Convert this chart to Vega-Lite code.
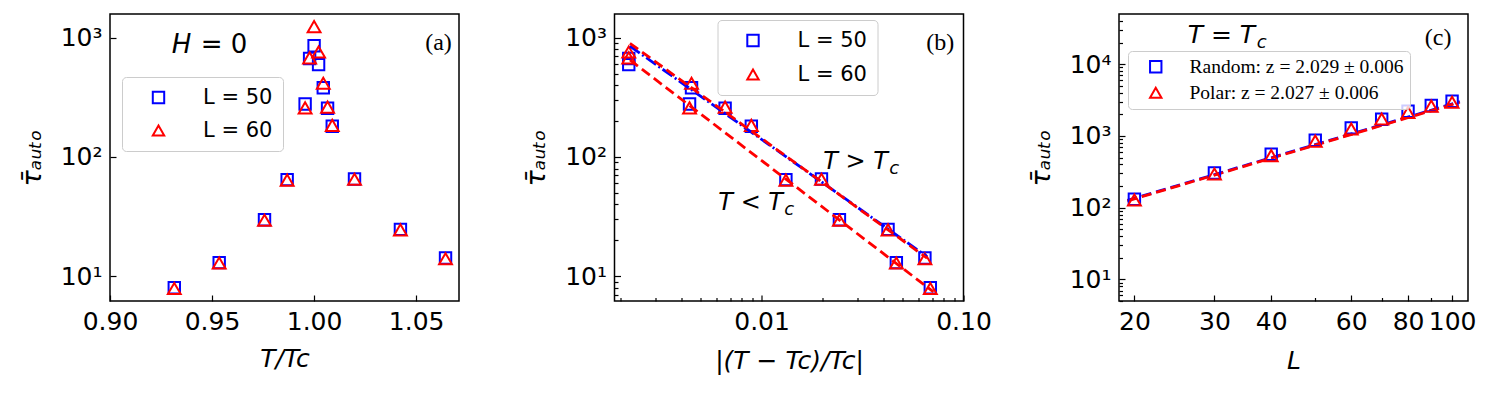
{
  "$schema": "https://vega.github.io/schema/vega-lite/v6.json",
  "background": "white",
  "autosize": {"type": "pad"},
  "padding": {"left": 17, "top": 8, "right": 5, "bottom": 5},
  "bounds": "flush",
  "spacing": 155.5,
  "datasets": {
    "a": [
      {"series": "L = 50", "t": 0.9315, "tau": 8.0},
      {"series": "L = 50", "t": 0.9535, "tau": 13.0},
      {"series": "L = 50", "t": 0.9757, "tau": 29.8},
      {"series": "L = 50", "t": 0.9868, "tau": 64.6},
      {"series": "L = 50", "t": 0.9956, "tau": 278},
      {"series": "L = 50", "t": 0.9978, "tau": 670},
      {"series": "L = 50", "t": 1.0, "tau": 857},
      {"series": "L = 50", "t": 1.0022, "tau": 595},
      {"series": "L = 50", "t": 1.0045, "tau": 380},
      {"series": "L = 50", "t": 1.0066, "tau": 256},
      {"series": "L = 50", "t": 1.0089, "tau": 181},
      {"series": "L = 50", "t": 1.0198, "tau": 65.3},
      {"series": "L = 50", "t": 1.0423, "tau": 24.7},
      {"series": "L = 50", "t": 1.0644, "tau": 14.2},
      {"series": "L = 60", "t": 0.9315, "tau": 7.9},
      {"series": "L = 60", "t": 0.9535, "tau": 12.9},
      {"series": "L = 60", "t": 0.9757, "tau": 29.5},
      {"series": "L = 60", "t": 0.9868, "tau": 64},
      {"series": "L = 60", "t": 0.9956, "tau": 258},
      {"series": "L = 60", "t": 0.9978, "tau": 678},
      {"series": "L = 60", "t": 1.0, "tau": 1237},
      {"series": "L = 60", "t": 1.0022, "tau": 758},
      {"series": "L = 60", "t": 1.0045, "tau": 415},
      {"series": "L = 60", "t": 1.0066, "tau": 262},
      {"series": "L = 60", "t": 1.0089, "tau": 184},
      {"series": "L = 60", "t": 1.0198, "tau": 65},
      {"series": "L = 60", "t": 1.0423, "tau": 24.5},
      {"series": "L = 60", "t": 1.0644, "tau": 14.0}
    ],
    "annA1": [{"t": 0.9302, "tau": 740, "label": "H"}],
    "annA2": [{"t": 1.0675, "tau": 788, "label": "(a)"}],
    "b": [
      {"series": "L = 50", "d": 0.0022, "tau": 595},
      {"series": "L = 50", "d": 0.0045, "tau": 380},
      {"series": "L = 50", "d": 0.0066, "tau": 256},
      {"series": "L = 50", "d": 0.0089, "tau": 181},
      {"series": "L = 50", "d": 0.0198, "tau": 65.3},
      {"series": "L = 50", "d": 0.0423, "tau": 24.7},
      {"series": "L = 50", "d": 0.0644, "tau": 14.2},
      {"series": "L = 50", "d": 0.0022, "tau": 670},
      {"series": "L = 50", "d": 0.0044, "tau": 278},
      {"series": "L = 50", "d": 0.0132, "tau": 64.6},
      {"series": "L = 50", "d": 0.0243, "tau": 29.8},
      {"series": "L = 50", "d": 0.0465, "tau": 13.0},
      {"series": "L = 50", "d": 0.0685, "tau": 8.0},
      {"series": "L = 60", "d": 0.0022, "tau": 758},
      {"series": "L = 60", "d": 0.0045, "tau": 415},
      {"series": "L = 60", "d": 0.0066, "tau": 262},
      {"series": "L = 60", "d": 0.0089, "tau": 184},
      {"series": "L = 60", "d": 0.0198, "tau": 65},
      {"series": "L = 60", "d": 0.0423, "tau": 24.5},
      {"series": "L = 60", "d": 0.0644, "tau": 14.0},
      {"series": "L = 60", "d": 0.0022, "tau": 678},
      {"series": "L = 60", "d": 0.0044, "tau": 258},
      {"series": "L = 60", "d": 0.0132, "tau": 64},
      {"series": "L = 60", "d": 0.0243, "tau": 29.5},
      {"series": "L = 60", "d": 0.0465, "tau": 12.9},
      {"series": "L = 60", "d": 0.0685, "tau": 7.9}
    ],
    "bfitBlue": [
      {"line": "gt", "d": 0.00223, "tau": 850},
      {"line": "gt", "d": 0.066, "tau": 14.6}
    ],
    "bfitRed": [
      {"line": "gt", "d": 0.00223, "tau": 897},
      {"line": "gt", "d": 0.066, "tau": 14.2},
      {"line": "lt", "d": 0.00223, "tau": 650},
      {"line": "lt", "d": 0.071, "tau": 7.4}
    ],
    "annB1": [
      {"d": 0.0202, "tau": 80, "label": "T > T"},
      {"d": 0.00611, "tau": 35.6, "label": "T < T"}
    ],
    "annB2": [{"d": 0.0901, "tau": 788, "label": "(b)"}],
    "c": [
      {"series": "Random: z = 2.029 ± 0.006", "L": 20, "tau": 131},
      {"series": "Random: z = 2.029 ± 0.006", "L": 30, "tau": 304},
      {"series": "Random: z = 2.029 ± 0.006", "L": 40, "tau": 554},
      {"series": "Random: z = 2.029 ± 0.006", "L": 50, "tau": 870},
      {"series": "Random: z = 2.029 ± 0.006", "L": 60, "tau": 1295},
      {"series": "Random: z = 2.029 ± 0.006", "L": 70, "tau": 1706},
      {"series": "Random: z = 2.029 ± 0.006", "L": 80, "tau": 2205},
      {"series": "Random: z = 2.029 ± 0.006", "L": 90, "tau": 2650},
      {"series": "Random: z = 2.029 ± 0.006", "L": 100, "tau": 3040},
      {"series": "Polar: z = 2.027 ± 0.006", "L": 20, "tau": 128},
      {"series": "Polar: z = 2.027 ± 0.006", "L": 30, "tau": 295},
      {"series": "Polar: z = 2.027 ± 0.006", "L": 40, "tau": 530},
      {"series": "Polar: z = 2.027 ± 0.006", "L": 50, "tau": 845},
      {"series": "Polar: z = 2.027 ± 0.006", "L": 60, "tau": 1250},
      {"series": "Polar: z = 2.027 ± 0.006", "L": 70, "tau": 1720},
      {"series": "Polar: z = 2.027 ± 0.006", "L": 80, "tau": 2130},
      {"series": "Polar: z = 2.027 ± 0.006", "L": 90, "tau": 2600},
      {"series": "Polar: z = 2.027 ± 0.006", "L": 100, "tau": 2950}
    ],
    "cfitBlue": [{"L": 19.3, "tau": 126}, {"L": 104, "tau": 3000}],
    "cfitRed": [{"L": 19.3, "tau": 124}, {"L": 104, "tau": 2945}],
    "annC1": [{"L": 26.2, "tau": 19800, "label": "T = T"}],
    "annC2": [{"L": 99.7, "tau": 18600, "label": "(c)"}]
  },
  "hconcat": [
    {
      "width": 349,
      "height": 287,
      "encoding": {
        "x": {"field": "t", "type": "quantitative",
          "scale": {"domain": [0.9, 1.071], "nice": false, "zero": false},
          "axis": {"title": "T/Tc", "values": [0.9, 0.95, 1.0, 1.05], "format": ".2f", "tickSize": -6, "labelPadding": 14, "titlePadding": 12}},
        "y": {"field": "tau", "type": "quantitative",
          "scale": {"type": "log", "domain": [6.2, 1580], "nice": false},
          "axis": {"title": "τ̄ₐᵤₜₒ", "titleFontSize": 27, "values": [10, 100, 1000],
            "labelExpr": "datum.value == 10 ? '10¹' : datum.value == 100 ? '10²' : datum.value == 1000 ? '10³' : ''",
            "tickSize": -6, "labelPadding": 14, "titlePadding": 14}}
      },
      "layer": [
        {
          "data": {"name": "a"},
          "transform": [{"filter": "datum.series == 'L = 50'"}],
          "mark": {"type": "point", "filled": false, "size": 130, "strokeWidth": 2, "opacity": 1},
          "encoding": {
            "color": {"field": "series", "type": "nominal", "scale": {"domain": ["L = 50", "L = 60"], "range": ["#0000ff", "#ff0000"]},
              "legend": {"orient": "none", "legendX": 12, "legendY": 63, "title": null, "padding": 10, "symbolOffset": 16, "labelOffset": 34, "rowPadding": 11, "labelFontSize": 21}},
            "shape": {"field": "series", "type": "nominal", "scale": {"domain": ["L = 50", "L = 60"], "range": ["square", "triangle-up"]},
              "legend": {"orient": "none", "legendX": 12, "legendY": 63, "title": null, "padding": 10, "symbolOffset": 16, "labelOffset": 34, "rowPadding": 11, "labelFontSize": 21}}
          }
        },
        {
          "data": {"name": "a"},
          "transform": [{"filter": "datum.series == 'L = 60'"}],
          "mark": {"type": "point", "filled": false, "size": 165, "strokeWidth": 2, "opacity": 1},
          "encoding": {
            "color": {"field": "series", "type": "nominal", "scale": {"domain": ["L = 50", "L = 60"], "range": ["#0000ff", "#ff0000"]},
              "legend": {"orient": "none", "legendX": 12, "legendY": 63, "title": null, "padding": 10, "symbolOffset": 16, "labelOffset": 34, "rowPadding": 11, "labelFontSize": 21}},
            "shape": {"field": "series", "type": "nominal", "scale": {"domain": ["L = 50", "L = 60"], "range": ["square", "triangle-up"]},
              "legend": {"orient": "none", "legendX": 12, "legendY": 63, "title": null, "padding": 10, "symbolOffset": 16, "labelOffset": 34, "rowPadding": 11, "labelFontSize": 21}}
          }
        },
        {
          "data": {"name": "annA1"},
          "mark": {"type": "text", "align": "left", "baseline": "alphabetic", "font": "DejaVu Sans", "fontSize": 26, "fontStyle": "italic", "color": "black"},
          "encoding": {"text": {"field": "label"}}
        },
        {
          "data": {"name": "annA1"},
          "mark": {"type": "text", "align": "left", "baseline": "alphabetic", "font": "DejaVu Sans", "fontSize": 26, "color": "black", "dx": 29},
          "encoding": {"text": {"value": "= 0"}}
        },
        {
          "data": {"name": "annA2"},
          "mark": {"type": "text", "align": "right", "baseline": "alphabetic", "font": "Liberation Serif", "fontSize": 24, "color": "black"},
          "encoding": {"text": {"field": "label"}}
        }
      ]
    },
    {
      "width": 349,
      "height": 287,
      "encoding": {
        "x": {"field": "d", "type": "quantitative",
          "scale": {"type": "log", "domain": [0.00187, 0.1], "nice": false},
          "axis": {"title": "|(T − Tc)/Tc|", "values": [0.002, 0.003, 0.004, 0.005, 0.006, 0.007, 0.008, 0.009, 0.01, 0.02, 0.03, 0.04, 0.05, 0.06, 0.07, 0.08, 0.09, 0.1],
            "labelExpr": "datum.value == 0.01 ? '0.01' : datum.value == 0.1 ? '0.10' : ''",
            "tickSize": {"condition": {"test": "datum.value == 0.01 || datum.value == 0.1", "value": -6}, "value": -3.5},
            "labelPadding": 14, "titlePadding": 12}},
        "y": {"field": "tau", "type": "quantitative",
          "scale": {"type": "log", "domain": [6.2, 1580], "nice": false},
          "axis": {"title": "τ̄ₐᵤₜₒ", "titleFontSize": 27, "values": [7, 8, 9, 10, 20, 30, 40, 50, 60, 70, 80, 90, 100, 200, 300, 400, 500, 600, 700, 800, 900, 1000],
            "labelExpr": "datum.value == 10 ? '10¹' : datum.value == 100 ? '10²' : datum.value == 1000 ? '10³' : ''",
            "tickSize": {"condition": {"test": "datum.value == 10 || datum.value == 100 || datum.value == 1000", "value": -6}, "value": -3.5},
            "labelPadding": 14, "titlePadding": 14}}
      },
      "layer": [
        {
          "data": {"name": "b"},
          "transform": [{"filter": "datum.series == 'L = 50'"}],
          "mark": {"type": "point", "filled": false, "size": 130, "strokeWidth": 2, "opacity": 1},
          "encoding": {
            "color": {"field": "series", "type": "nominal", "scale": {"domain": ["L = 50", "L = 60"], "range": ["#0000ff", "#ff0000"]},
              "legend": {"orient": "none", "legendX": 103, "legendY": 6, "title": null, "padding": 10, "symbolOffset": 15, "labelOffset": 34, "rowPadding": 12, "labelFontSize": 21}},
            "shape": {"field": "series", "type": "nominal", "scale": {"domain": ["L = 50", "L = 60"], "range": ["square", "triangle-up"]},
              "legend": {"orient": "none", "legendX": 103, "legendY": 6, "title": null, "padding": 10, "symbolOffset": 15, "labelOffset": 34, "rowPadding": 12, "labelFontSize": 21}}
          }
        },
        {
          "data": {"name": "b"},
          "transform": [{"filter": "datum.series == 'L = 60'"}],
          "mark": {"type": "point", "filled": false, "size": 165, "strokeWidth": 2, "opacity": 1},
          "encoding": {
            "color": {"field": "series", "type": "nominal", "scale": {"domain": ["L = 50", "L = 60"], "range": ["#0000ff", "#ff0000"]},
              "legend": {"orient": "none", "legendX": 103, "legendY": 6, "title": null, "padding": 10, "symbolOffset": 15, "labelOffset": 34, "rowPadding": 12, "labelFontSize": 21}},
            "shape": {"field": "series", "type": "nominal", "scale": {"domain": ["L = 50", "L = 60"], "range": ["square", "triangle-up"]},
              "legend": {"orient": "none", "legendX": 103, "legendY": 6, "title": null, "padding": 10, "symbolOffset": 15, "labelOffset": 34, "rowPadding": 12, "labelFontSize": 21}}
          }
        },
        {
          "data": {"name": "bfitBlue"},
          "mark": {"type": "line", "color": "#0000ff", "strokeWidth": 2.8, "strokeDash": [12, 3, 2, 3]},
          "encoding": {"detail": {"field": "line"}}
        },
        {
          "data": {"name": "bfitRed"},
          "mark": {"type": "line", "color": "#ff0000", "strokeWidth": 2.8, "strokeDash": [10, 5]},
          "encoding": {"detail": {"field": "line"}}
        },
        {
          "data": {"name": "annB1"},
          "mark": {"type": "text", "align": "left", "baseline": "alphabetic", "font": "DejaVu Sans", "fontSize": 24, "fontStyle": "italic", "color": "black"},
          "encoding": {"text": {"field": "label"}}
        },
        {
          "data": {"name": "annB1"},
          "mark": {"type": "text", "align": "left", "baseline": "alphabetic", "font": "DejaVu Sans", "fontSize": 18, "fontStyle": "italic", "color": "black", "dx": 66, "dy": 5},
          "encoding": {"text": {"value": "c"}}
        },
        {
          "data": {"name": "annB2"},
          "mark": {"type": "text", "align": "right", "baseline": "alphabetic", "font": "Liberation Serif", "fontSize": 24, "color": "black"},
          "encoding": {"text": {"field": "label"}}
        }
      ]
    },
    {
      "width": 349,
      "height": 287,
      "encoding": {
        "x": {"field": "L", "type": "quantitative",
          "scale": {"type": "log", "domain": [18.5, 108.4], "nice": false},
          "axis": {"title": "L", "values": [20, 30, 40, 50, 60, 70, 80, 90, 100], "format": "d",
            "labelExpr": "datum.value == 50 || datum.value == 70 || datum.value == 90 ? '' : datum.label",
            "tickSize": {"condition": {"test": "datum.value == 50 || datum.value == 70 || datum.value == 90", "value": -3.5}, "value": -6},
            "labelPadding": 14, "titlePadding": 12}},
        "y": {"field": "tau", "type": "quantitative",
          "scale": {"type": "log", "domain": [5, 50000], "nice": false},
          "axis": {"title": "τ̄ₐᵤₜₒ", "titleFontSize": 27,
            "values": [5, 6, 7, 8, 9, 10, 20, 30, 40, 50, 60, 70, 80, 90, 100, 200, 300, 400, 500, 600, 700, 800, 900, 1000, 2000, 3000, 4000, 5000, 6000, 7000, 8000, 9000, 10000, 20000, 30000, 40000],
            "labelExpr": "datum.value == 10 ? '10¹' : datum.value == 100 ? '10²' : datum.value == 1000 ? '10³' : datum.value == 10000 ? '10⁴' : ''",
            "tickSize": {"condition": {"test": "datum.value == 10 || datum.value == 100 || datum.value == 1000 || datum.value == 10000", "value": -6}, "value": -3.5},
            "labelPadding": 14, "titlePadding": 14}}
      },
      "layer": [
        {
          "data": {"name": "cfitBlue"},
          "mark": {"type": "line", "color": "#0000ff", "strokeWidth": 2.8, "strokeDash": [10, 5]},
          "encoding": {}
        },
        {
          "data": {"name": "cfitRed"},
          "mark": {"type": "line", "color": "#ff0000", "strokeWidth": 2.8, "strokeDash": [10, 5]},
          "encoding": {}
        },
        {
          "data": {"name": "c"},
          "transform": [{"filter": "datum.series == 'Random: z = 2.029 ± 0.006'"}],
          "mark": {"type": "point", "filled": false, "size": 130, "strokeWidth": 2, "opacity": 1},
          "encoding": {
            "color": {"field": "series", "type": "nominal", "scale": {"domain": ["Random: z = 2.029 ± 0.006", "Polar: z = 2.027 ± 0.006"], "range": ["#0000ff", "#ff0000"]},
              "legend": {"orient": "none", "legendX": 9, "legendY": 37, "title": null, "padding": 6, "symbolOffset": 12, "labelOffset": 24, "rowPadding": 5, "labelFontSize": 19.5, "labelFont": "Liberation Serif"}},
            "shape": {"field": "series", "type": "nominal", "scale": {"domain": ["Random: z = 2.029 ± 0.006", "Polar: z = 2.027 ± 0.006"], "range": ["square", "triangle-up"]},
              "legend": {"orient": "none", "legendX": 9, "legendY": 37, "title": null, "padding": 6, "symbolOffset": 12, "labelOffset": 24, "rowPadding": 5, "labelFontSize": 19.5, "labelFont": "Liberation Serif"}}
          }
        },
        {
          "data": {"name": "c"},
          "transform": [{"filter": "datum.series == 'Polar: z = 2.027 ± 0.006'"}],
          "mark": {"type": "point", "filled": false, "size": 165, "strokeWidth": 2, "opacity": 1},
          "encoding": {
            "color": {"field": "series", "type": "nominal", "scale": {"domain": ["Random: z = 2.029 ± 0.006", "Polar: z = 2.027 ± 0.006"], "range": ["#0000ff", "#ff0000"]},
              "legend": {"orient": "none", "legendX": 9, "legendY": 37, "title": null, "padding": 6, "symbolOffset": 12, "labelOffset": 24, "rowPadding": 5, "labelFontSize": 19.5, "labelFont": "Liberation Serif"}},
            "shape": {"field": "series", "type": "nominal", "scale": {"domain": ["Random: z = 2.029 ± 0.006", "Polar: z = 2.027 ± 0.006"], "range": ["square", "triangle-up"]},
              "legend": {"orient": "none", "legendX": 9, "legendY": 37, "title": null, "padding": 6, "symbolOffset": 12, "labelOffset": 24, "rowPadding": 5, "labelFontSize": 19.5, "labelFont": "Liberation Serif"}}
          }
        },
        {
          "data": {"name": "annC1"},
          "mark": {"type": "text", "align": "left", "baseline": "alphabetic", "font": "DejaVu Sans", "fontSize": 25, "fontStyle": "italic", "color": "black"},
          "encoding": {"text": {"field": "label"}}
        },
        {
          "data": {"name": "annC1"},
          "mark": {"type": "text", "align": "left", "baseline": "alphabetic", "font": "DejaVu Sans", "fontSize": 18, "fontStyle": "italic", "color": "black", "dx": 69, "dy": 5},
          "encoding": {"text": {"value": "c"}}
        },
        {
          "data": {"name": "annC2"},
          "mark": {"type": "text", "align": "right", "baseline": "alphabetic", "font": "Liberation Serif", "fontSize": 24, "color": "black"},
          "encoding": {"text": {"field": "label"}}
        }
      ]
    }
  ],
  "resolve": {
    "scale": {"color": "independent", "shape": "independent", "x": "independent", "y": "independent"},
    "legend": {"color": "independent", "shape": "independent"}
  },
  "config": {
    "view": {"stroke": "black", "strokeWidth": 1.5},
    "axis": {"domain": false, "grid": false, "labelFlush": false, "labelOverlap": false, "labelBound": false,
      "labelFont": "DejaVu Sans", "labelFontSize": 25, "labelColor": "black",
      "tickColor": "black", "tickWidth": 1.2,
      "titleFont": "DejaVu Sans", "titleFontSize": 25, "titleFontWeight": "normal", "titleFontStyle": "italic", "titleColor": "black"},
    "legend": {"fillColor": "rgba(255,255,255,0.8)", "strokeColor": "#cccccc", "cornerRadius": 4,
      "labelFont": "DejaVu Sans", "labelColor": "black", "symbolSize": 130, "symbolStrokeWidth": 2, "labelLimit": 400}
  }
}
